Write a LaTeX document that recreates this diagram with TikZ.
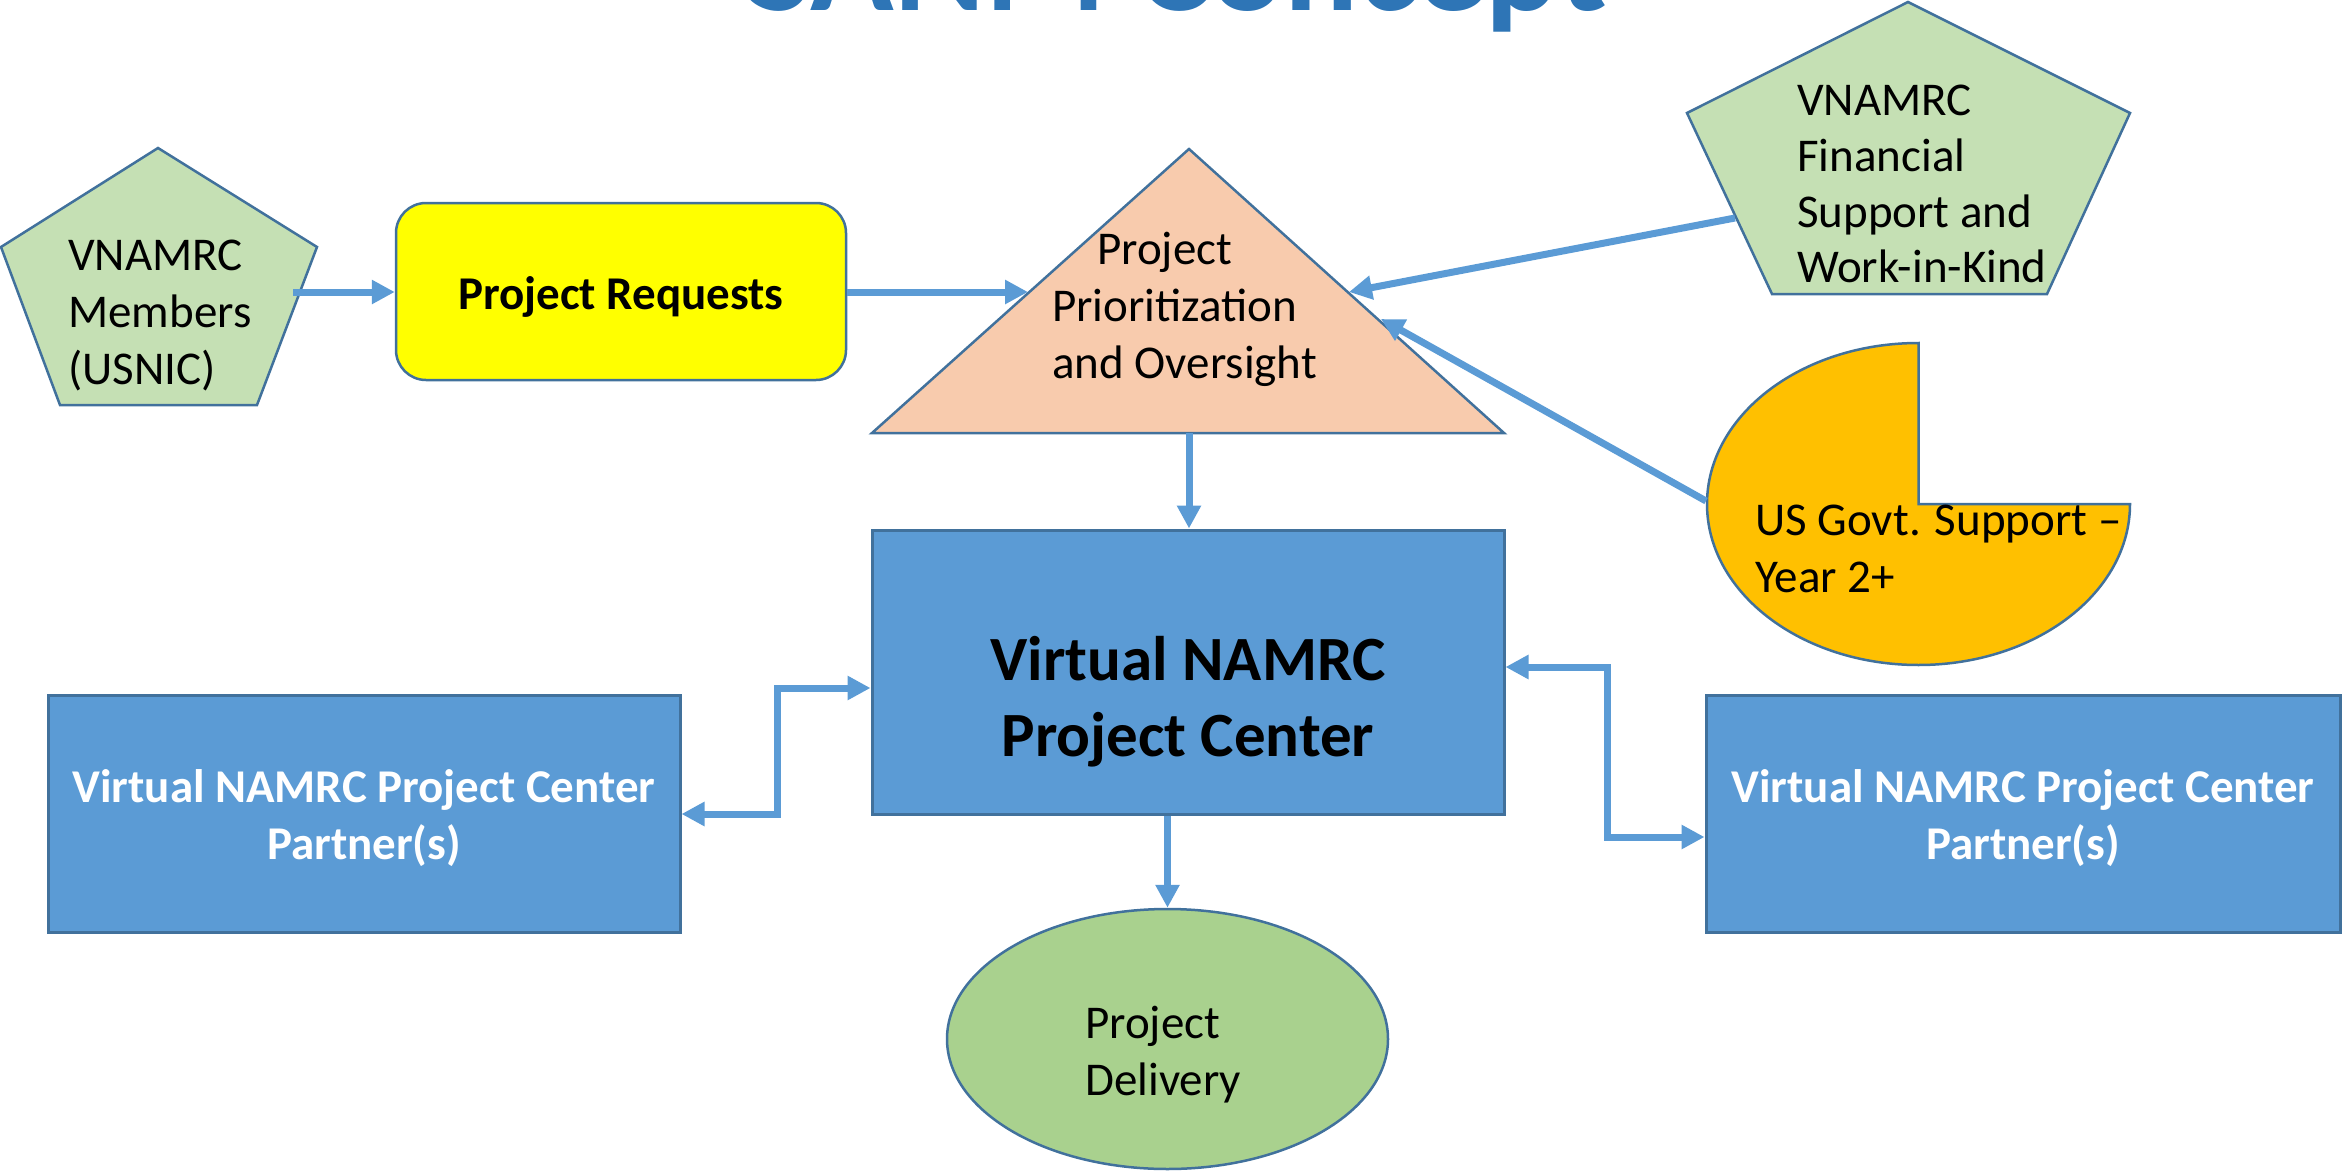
\documentclass[tikz,border=0pt]{standalone}
\usepackage{fontspec}
\setmainfont{Carlito}
\usetikzlibrary{arrows.meta,shapes.geometric}
\definecolor{titleblue}{HTML}{2E75B6}
\definecolor{boxblue}{HTML}{5B9BD5}
\definecolor{edgeblue}{HTML}{41719C}
\definecolor{arrowblue}{HTML}{5B9BD5}
\definecolor{pentgreen}{HTML}{C5E0B4}
\definecolor{peach}{HTML}{F8CBAD}
\definecolor{reqyellow}{HTML}{FFFF00}
\definecolor{gold}{HTML}{FFC000}
\definecolor{ellgreen}{HTML}{A9D18E}
\newcommand{\llines}[1]{\begin{tabular}[t]{@{}l@{}}#1\end{tabular}}
\newcommand{\clines}[1]{\begin{tabular}[t]{@{}c@{}}#1\end{tabular}}
\begin{document}
\begin{tikzpicture}[x=1pt,y=-1pt,
  shp/.style={draw=edgeblue, line width=2.5pt, line join=miter},
  arr/.style={draw=arrowblue, line width=7pt, -{Triangle[length=23pt,width=23pt]}},
  arrb/.style={draw=arrowblue, line width=7pt, line join=miter, {Triangle[length=23pt,width=23pt]}-{Triangle[length=23pt,width=23pt]}},
  txt/.style={inner sep=0pt, anchor=base west, font=\fontsize{47}{57}\selectfont},
  btxt/.style={inner sep=0pt, anchor=base, font=\fontsize{47}{57}\selectfont\bfseries},
  bluebox/.style={rectangle, draw=edgeblue, fill=boxblue, line width=3pt, inner sep=0pt}]
\useasboundingbox (0,0) rectangle (2343,1172);
\clip (0,0) rectangle (2343,1172);

% title (cut off at top)
\node[anchor=base west, inner sep=0pt, font=\fontsize{138}{160}\selectfont\bfseries, text=titleblue] (title) at (747,11) {SANM Concept};

% shapes
\draw[shp, fill=pentgreen] (158,148) -- (317,247) -- (257,405) -- (60,405) -- (1,247) -- cycle;
\node[rectangle, rounded corners=30pt, draw=edgeblue, fill=reqyellow, line width=2.5pt, minimum width=450pt, minimum height=177pt, inner sep=0pt] (req) at (621,291.5) {};
\draw[shp, fill=peach] (1189,149) -- (1504,433) -- (872,433) -- cycle;
\draw[shp, fill=pentgreen] (1908,2) -- (2130,113) -- (2047,294) -- (1772,294) -- (1687,113) -- cycle;
\draw[shp, fill=gold] (1918.5,504) -- (2130,504) arc[start angle=0, end angle=270, x radius=211.5, y radius=161] -- cycle;
\node[bluebox, minimum width=632pt, minimum height=284pt] (cbox) at (1188,672) {};
\node[bluebox, minimum width=632pt, minimum height=237pt] (lp) at (364,813.5) {};
\node[bluebox, minimum width=634pt, minimum height=237pt] (rp) at (2023,813.5) {};
\node[ellipse, draw=edgeblue, fill=ellgreen, line width=2.5pt, minimum width=441pt, minimum height=260pt, inner sep=0pt] (deliv) at (1167.5,1039) {};

% texts
\node[txt] (p1txt) at (68,270) {\llines{VNAMRC\\Members\\(USNIC)}};
\node[btxt] (reqtxt) at (621,309) {Project Requests};
\node[txt] (tritxt) at (1052,264) {\llines{\hspace{45pt}Project\\Prioritization\\and Oversight}};
\node[txt, font=\fontsize{47}{56}\selectfont] (fintxt) at (1797,115) {\llines{VNAMRC\\Financial\\Support and\\Work-in-Kind}};
\node[txt] (pietxt) at (1755,535) {\llines{US Govt. Support –\\Year 2+}};
\node[btxt, font=\fontsize{63}{76}\selectfont\bfseries] (cboxtxt) at (1188,680) {\clines{Virtual NAMRC\\Project Center}};
\node[btxt, text=white] (lptxt) at (364,802) {\clines{Virtual NAMRC Project Center\\Partner(s)}};
\node[btxt, text=white] (rptxt) at (2023,802) {\clines{Virtual NAMRC Project Center\\Partner(s)}};
\node[txt] (delivtxt) at (1085,1038) {\llines{Project\\Delivery}};

% connector end points
\coordinate (p1out) at (293,292);
\coordinate (triL) at (1028,292);
\coordinate (finout) at (1735,218);
\coordinate (triR1) at (1349,292);
\coordinate (pieout) at (1706,501);
\coordinate (triR2) at (1381,319);
\coordinate (tribase) at (1189,433);

% connectors
\draw[arr] (p1out) -- (req.west |- p1out);
\draw[arr] (req.east |- triL) -- (triL);
\draw[arr] (finout) -- (triR1);
\draw[arr] (pieout) -- (triR2);
\draw[arr] (tribase) -- (tribase |- cbox.north);
\draw[arr] (deliv.north |- cbox.south) -- (deliv.north);
\draw[arrb] (lp.east |- 0,814) -- (777,814) -- (777,688) -- (cbox.west |- 0,688);
\draw[arrb] (cbox.east |- 0,667) -- (1607,667) -- (1607,837) -- (rp.west |- 0,837);
\end{tikzpicture}
\end{document}
